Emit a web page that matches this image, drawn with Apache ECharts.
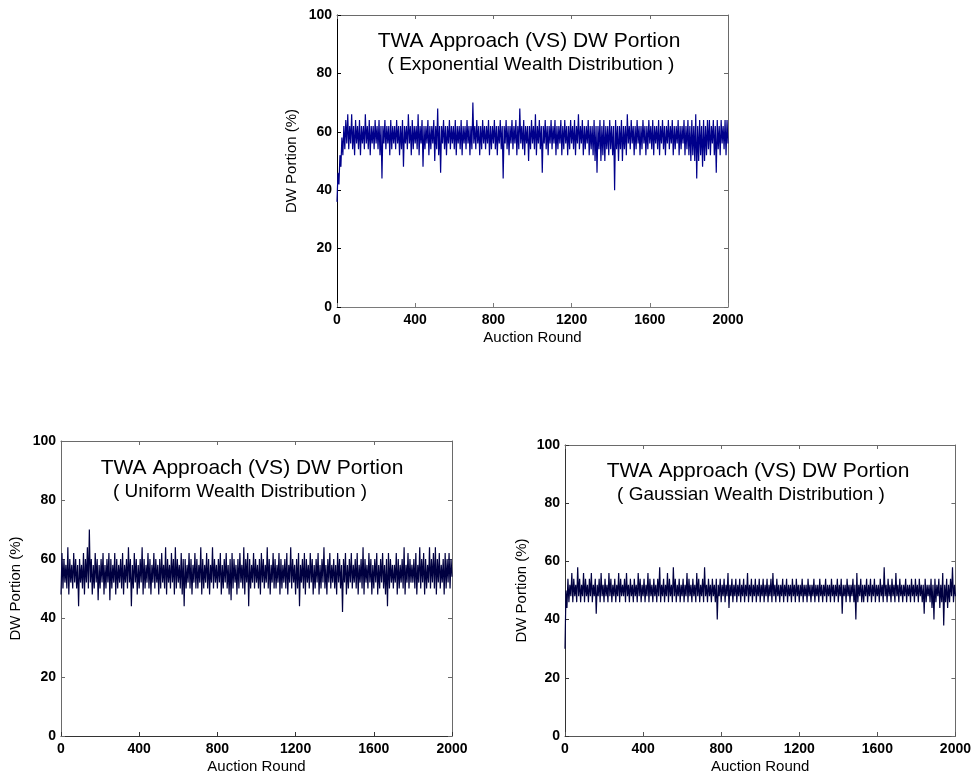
<!DOCTYPE html>
<html>
<head>
<meta charset="utf-8">
<script src="https://cdn.jsdelivr.net/npm/echarts@6/dist/echarts.min.js"></script>
<style>
html,body{margin:0;padding:0;background:#fff;}
#chart{width:974px;height:775px;}
</style>
</head>
<body>
<div id="chart"></div>
<script>
// DW portion (%) read every 5 auction rounds (0..2000); consecutive readings
// alternate between the lower and upper edge of the drawn band.
const roundStep = 5;
const xTicks = [0, 400, 800, 1200, 1600, 2000];
const yTicks = [0, 20, 40, 60, 80, 100];
const titleMain = 'TWA Approach (VS) DW Portion';
const subtitles = ['( Exponential Wealth Distribution )', '( Uniform Wealth Distribution )', '( Gaussian Wealth Distribution )'];

const exponentialDW = [
36,46,42,52,48,58,52,62,54,64,56,66,54,62,56,66,54,62,52,64,
56,62,54,64,52,62,56,62,54,66,56,62,54,64,52,62,56,62,54,64,
56,62,54,64,52,62,44,62,56,64,54,62,56,62,52,64,54,62,56,62,
54,64,56,62,52,62,54,64,48,62,56,62,54,66,56,62,52,64,54,62,
56,62,54,66,52,62,56,64,48,62,54,62,56,64,52,62,54,62,56,64,
50,62,54,68,52,62,46,62,56,64,54,62,52,62,56,64,54,62,56,62,
54,64,52,62,56,62,54,64,52,62,56,62,54,64,56,62,52,62,54,70,
56,62,54,64,56,62,52,62,54,64,56,62,54,62,56,64,52,62,54,62,
56,64,54,62,52,62,56,64,54,62,44,62,56,64,54,62,52,62,56,64,
54,62,56,64,52,62,54,68,56,62,54,64,52,62,56,62,50,62,54,64,
56,62,54,66,52,62,56,64,54,62,46,62,56,64,54,62,52,62,56,64,
54,62,56,64,52,62,54,62,56,64,52,62,54,64,56,62,52,62,54,64,
56,62,54,64,52,62,56,66,54,62,56,64,52,62,54,62,56,64,52,62,
54,62,52,64,50,62,46,62,54,64,50,62,52,64,50,62,54,62,52,64,
54,62,52,62,40,64,54,62,50,62,54,64,50,62,54,62,52,66,56,62,
54,64,56,62,52,62,54,64,56,62,52,62,54,64,56,62,52,62,54,64,
56,62,54,64,52,62,56,62,54,64,52,62,56,64,54,62,52,62,56,64,
54,62,56,64,52,62,54,62,56,64,52,62,54,62,56,64,52,62,54,64,
52,62,50,64,52,62,50,66,44,62,50,64,52,62,48,64,50,62,52,64,
54,64,52,62,56,64,52,62,46,64,54,62,52,64,56,62,54,64,52,64,
56];

const uniformDW = [
48,62,50,60,52,58,50,64,48,60,52,58,50,62,52,60,50,58,44,60,
52,58,50,62,48,60,52,64,50,70,52,60,48,58,50,62,52,60,46,58,
50,60,52,62,48,58,50,60,52,62,46,60,50,58,52,62,48,60,50,58,
52,60,50,62,48,58,52,60,50,64,52,60,44,58,50,62,52,60,48,58,
50,60,52,64,48,60,50,58,52,62,50,60,48,58,52,62,50,60,52,58,
48,60,50,62,52,58,50,64,48,60,52,58,50,62,52,60,48,64,50,60,
52,58,50,62,48,60,44,60,50,58,52,62,50,60,48,58,52,62,50,60,
50,58,52,64,48,60,50,58,52,62,50,60,48,58,52,64,50,60,52,58,
50,60,52,62,48,58,50,60,52,62,50,58,48,60,46,62,50,60,52,58,
48,60,50,62,52,58,50,64,48,60,52,62,44,60,50,58,52,62,50,60,
52,58,50,60,48,62,52,60,50,58,52,64,50,60,48,58,52,62,50,60,
50,58,52,62,48,60,50,58,52,60,50,62,48,58,52,64,50,60,52,58,
48,60,50,62,44,58,52,60,50,62,48,60,52,58,50,62,52,60,48,58,
50,60,52,62,48,58,50,60,52,64,50,58,48,60,52,62,50,58,52,60,
50,58,48,62,52,60,50,58,42,60,52,62,48,58,50,60,52,62,50,58,
52,60,50,62,48,58,52,60,50,64,48,60,52,58,50,62,52,60,48,58,
50,60,52,62,48,58,50,60,52,62,50,58,48,60,44,62,50,60,52,58,
50,58,52,62,48,60,50,58,52,60,50,64,48,58,52,62,50,60,52,58,
52,60,50,62,48,58,52,64,50,60,52,62,48,60,50,58,52,64,50,60,
52,62,50,64,48,60,52,62,50,58,52,60,48,62,50,60,52,62,50,60,
54];

const gaussianDW = [
30,50,44,54,46,52,48,56,46,54,48,52,46,58,48,54,46,52,48,56,
46,54,48,52,46,54,48,56,46,52,48,54,42,52,48,54,46,56,48,52,
46,54,48,52,46,56,48,54,46,52,48,54,46,52,48,56,46,54,48,52,
48,54,46,56,48,52,46,54,48,52,46,54,48,52,46,56,48,54,46,52,
48,54,46,52,48,56,46,54,48,52,46,54,48,52,46,54,48,58,46,52,
48,54,46,52,48,56,46,54,48,52,46,58,48,54,46,52,48,54,46,52,
48,54,46,52,48,56,46,54,48,52,46,54,48,52,46,56,48,54,46,52,
48,54,46,58,48,52,46,54,48,52,46,54,48,52,46,54,40,52,48,54,
46,52,48,54,46,52,48,56,44,52,48,54,46,52,48,54,46,52,48,54,
46,52,48,54,46,52,48,56,46,52,48,54,46,52,48,54,46,52,48,54,
46,52,48,54,46,52,48,54,46,52,48,54,46,56,48,52,46,54,48,52,
46,52,48,54,46,52,48,54,46,52,48,52,46,54,48,52,46,54,48,52,
46,52,48,54,46,52,48,52,46,54,48,52,46,52,48,54,46,52,48,52,
46,54,48,52,46,52,48,54,46,52,48,52,46,54,48,52,46,52,48,54,
46,52,48,54,42,52,48,52,46,54,48,52,46,52,48,54,46,52,40,56,
46,52,48,54,46,52,46,52,48,54,46,52,48,54,46,52,48,54,46,52,
48,52,46,54,48,52,46,58,48,52,46,54,48,52,46,54,48,52,46,56,
48,52,46,54,48,52,46,52,48,54,46,52,48,52,46,54,48,52,46,54,
48,52,46,54,48,52,46,52,42,54,46,52,48,52,46,54,44,52,40,54,
46,52,48,54,44,52,46,56,38,52,46,54,44,52,46,54,48,58,46,52,
48];

const panels = [
  {data: exponentialDW, color: '#00008b', grid: {left: 337, top: 15, width: 391, height: 292},
   title: {x: 529, y: 40.8}, sub: {x: 531, y: 64.4}, yGap: 38, leftColor: '#000', bottomColor: '#7a7a7a'},
  {data: uniformDW, color: '#000040', grid: {left: 61, top: 441, width: 391, height: 295},
   title: {x: 252, y: 468.3}, sub: {x: 240, y: 491.7}, yGap: 38, leftColor: '#6a6a6a', bottomColor: '#333'},
  {data: gaussianDW, color: '#000040', grid: {left: 565, top: 445, width: 392, height: 292},
   title: {x: 758, y: 471.6}, sub: {x: 751, y: 495.1}, yGap: 36, leftColor: '#333', bottomColor: '#555'}
];

const font = 'Liberation Sans, Arial, sans-serif';
const plain = function (v) { return String(v); };
const grids = [], xAxes = [], yAxes = [], series = [], graphics = [];
panels.forEach(function (p, k) {
  grids.push(Object.assign({containLabel: false}, p.grid));
  const common = {min: xTicks[0], max: xTicks[xTicks.length - 1], interval: xTicks[1] - xTicks[0], gridIndex: k, splitLine: {show: false}};
  xAxes.push(Object.assign({}, common, {
    type: 'value', position: 'bottom',
    name: 'Auction Round', nameLocation: 'middle', nameGap: 23,
    nameTextStyle: {fontFamily: font, fontSize: 15, color: '#000'},
    axisLine: {show: true, onZero: false, lineStyle: {color: p.bottomColor, width: 1}},
    axisTick: {show: true, inside: true, length: 4, lineStyle: {color: p.bottomColor}},
    axisLabel: {fontFamily: font, fontSize: 14, fontWeight: 'bold', color: '#000', margin: 6, formatter: plain}
  }));
  xAxes.push(Object.assign({}, common, {
    type: 'value', position: 'top',
    axisLine: {show: true, onZero: false, lineStyle: {color: '#6a6a6a', width: 1}},
    axisTick: {show: true, inside: true, length: 4, lineStyle: {color: '#6a6a6a'}},
    axisLabel: {show: false}
  }));
  const ycommon = {min: yTicks[0], max: yTicks[yTicks.length - 1], interval: yTicks[1] - yTicks[0], gridIndex: k, splitLine: {show: false}};
  yAxes.push(Object.assign({}, ycommon, {
    type: 'value', position: 'left',
    name: 'DW Portion (%)', nameLocation: 'middle', nameGap: p.yGap,
    nameTextStyle: {fontFamily: font, fontSize: 15, color: '#000'},
    axisLine: {show: true, onZero: false, lineStyle: {color: p.leftColor, width: 1}},
    axisTick: {show: true, inside: true, length: 4, lineStyle: {color: p.leftColor}},
    axisLabel: {fontFamily: font, fontSize: 14, fontWeight: 'bold', color: '#000', margin: 5, formatter: plain}
  }));
  yAxes.push(Object.assign({}, ycommon, {
    type: 'value', position: 'right',
    axisLine: {show: true, onZero: false, lineStyle: {color: '#6a6a6a', width: 1}},
    axisTick: {show: true, inside: true, length: 4, lineStyle: {color: '#6a6a6a'}},
    axisLabel: {show: false}
  }));
  series.push({
    type: 'line', xAxisIndex: 2 * k, yAxisIndex: 2 * k,
    data: p.data.map(function (v, i) { return [i * roundStep, v]; }),
    showSymbol: false, symbol: 'none', animation: false,
    lineStyle: {color: p.color, width: 1.2}, silent: true
  });
  graphics.push({type: 'text', style: {text: titleMain, x: p.title.x, y: p.title.y, textAlign: 'center', textVerticalAlign: 'middle', font: '21px ' + font, fill: '#000'}});
  graphics.push({type: 'text', style: {text: subtitles[k], x: p.sub.x, y: p.sub.y, textAlign: 'center', textVerticalAlign: 'middle', font: '19px ' + font, fill: '#000'}});
});

const chart = echarts.init(document.getElementById('chart'), null, {renderer: 'canvas'});
chart.setOption({
  animation: false,
  backgroundColor: '#fff',
  grid: grids, xAxis: xAxes, yAxis: yAxes, series: series,
  graphic: graphics
});
</script>
</body>
</html>
